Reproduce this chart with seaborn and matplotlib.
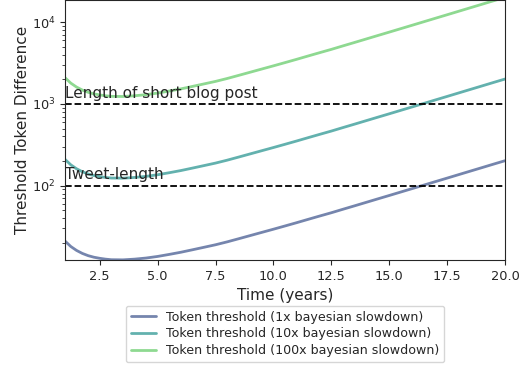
import matplotlib
matplotlib.use("Agg")
import matplotlib.pyplot as plt
import seaborn as sns
import numpy as np
import pandas as pd

# Years
years = [1.0, 1.25, 1.5, 1.75, 2.0, 2.25, 2.5, 2.75, 3.0, 3.5, 4.0, 4.5, 5.0,
         5.5, 6.0, 6.5, 7.0, 7.5, 8.0, 8.5, 9.0, 9.5, 10.0, 10.5, 11.0, 11.5,
         12.0, 12.5, 13.0, 13.5, 14.0, 14.5, 15.0, 15.5, 16.0, 16.5, 17.0,
         17.5, 18.0, 18.5, 19.0, 19.5, 20.0]

thr_1x = [21.0, 18.0, 16.1, 14.8, 13.9, 13.3, 12.9, 12.6, 12.4, 12.35, 12.6,
          13.0, 13.6, 14.4, 15.3, 16.4, 17.6, 18.9, 20.5, 22.4, 24.5, 26.8,
          29.3, 32.1, 35.2, 38.7, 42.5, 46.6, 51.4, 56.6, 62.4, 68.8, 75.8,
          83.6, 92.2, 101.7, 112.2, 123.7, 136.5, 150.6, 166.1, 183.3, 202.0]

thr_10x = [210, 180, 161, 148, 139, 133, 129, 126, 124, 123.5, 126,
           130, 136, 144, 153, 164, 176, 189, 205, 224, 245, 268,
           293, 321, 352, 387, 425, 466, 514, 566, 624, 688, 758,
           836, 922, 1017, 1122, 1237, 1365, 1506, 1661, 1833, 2020]

thr_100x = [2100, 1800, 1610, 1480, 1390, 1330, 1290, 1260, 1240, 1235, 1260,
            1300, 1360, 1440, 1530, 1640, 1760, 1890, 2050, 2240, 2450, 2680,
            2930, 3210, 3520, 3870, 4250, 4660, 5140, 5660, 6240, 6880, 7580,
            8360, 9220, 10170, 11220, 12370, 13650, 15060, 16610, 18330, 20200]

series_labels = ["Token threshold (1x bayesian slowdown)",
                 "Token threshold (10x bayesian slowdown)",
                 "Token threshold (100x bayesian slowdown)"]

ref_levels = [100, 1000]
ref_labels = ["Tweet-length", "Length of short blog post"]

sns.set_style("ticks")
plt.rcParams['font.family'] = ['DejaVu Sans']

df = pd.DataFrame({
    "year": years * 3,
    "value": thr_1x + thr_10x + thr_100x,
    "series": [series_labels[0]] * len(years) + [series_labels[1]] * len(years)
              + [series_labels[2]] * len(years),
})

fig = plt.figure(figsize=(5.24, 3.66), dpi=100)
ax = fig.add_axes([65 / 524, 1 - 260 / 366, 440 / 524, 260 / 366])

palette = sns.color_palette("viridis", 3)
sns.lineplot(data=df, x="year", y="value", hue="series", palette=palette,
             alpha=0.7, linewidth=2, ax=ax, legend=True)

for lvl, lab in zip(ref_levels, ref_labels):
    ax.axhline(lvl, color="black", linestyle="--", linewidth=1.3)
    ax.text(1.0, lvl * 1.2, lab, fontsize=11, color=".15", va="baseline", ha="left")

ax.set_yscale("log")
ax.set_xlim(1, 20)
ax.set_ylim(12.3, 18750)
ax.set_xlabel("Time (years)", fontsize=11, color=".15")
ax.set_ylabel("Threshold Token Difference", fontsize=11, color=".15", labelpad=1.5)
ax.tick_params(axis="both", which="major", labelsize=9.3, colors=".15")
ax.set_xticks([2.5, 5.0, 7.5, 10.0, 12.5, 15.0, 17.5, 20.0])

leg = ax.legend(loc="upper center", bbox_to_anchor=(0.5, -0.151), fontsize=9.1,
                frameon=True, title=None, labelspacing=0.3)
for line in leg.get_lines():
    line.set_linewidth(2)

fig.savefig("out.png", dpi=100)
